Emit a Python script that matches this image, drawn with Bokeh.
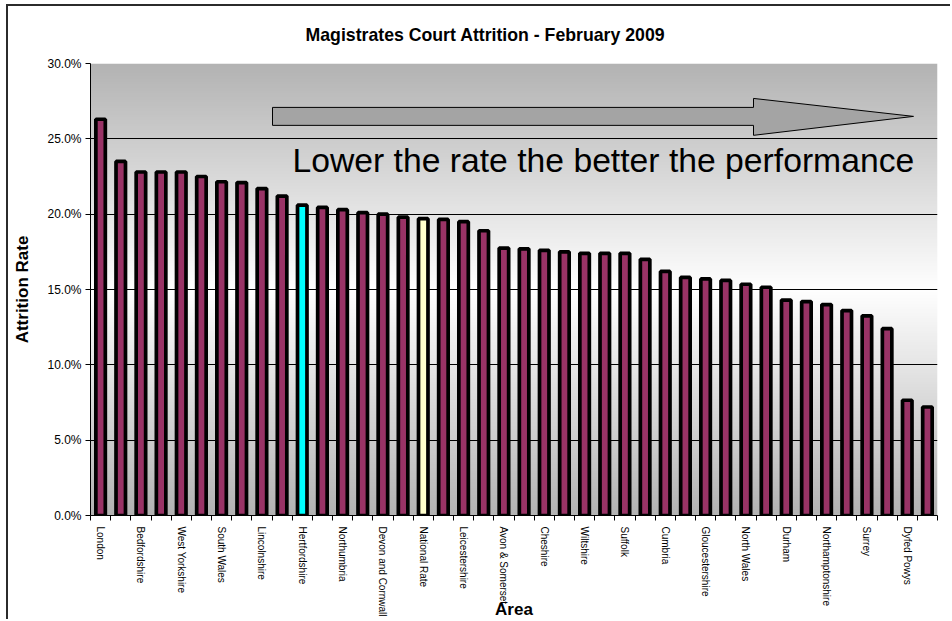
import numpy as np
from bokeh.plotting import figure
from bokeh.models import Range1d, FixedTicker, PrintfTickFormatter, Label, ColumnDataSource
from bokeh.embed import file_html
from bokeh.resources import INLINE

# ---------------- data ----------------
title_text = "Magistrates Court Attrition - February 2009"
y_title = "Attrition Rate"
x_title = "Area"
note_text = "Lower the rate the better the performance"

areas = ["London", "", "Bedfordshire", "", "West Yorkshire", "", "South Wales", "",
         "Lincolnshire", "", "Hertfordshire", "", "Northumbria", "", "Devon and Cornwall", "",
         "National Rate", "", "Leicestershire", "", "Avon & Somerset", "", "Cheshire", "",
         "Wiltshire", "", "Suffolk", "", "Cumbria", "", "Gloucestershire", "", "North Wales", "",
         "Durham", "", "Northamptonshire", "", "Surrey", "", "Dyfed Powys", ""]
rates = [26.3, 23.5, 22.8, 22.8, 22.8, 22.5, 22.15, 22.1, 21.7, 21.2,
         20.6, 20.45, 20.3, 20.1, 20.0, 19.8, 19.7, 19.65, 19.5, 18.9,
         17.75, 17.7, 17.6, 17.5, 17.4, 17.4, 17.4, 17.0, 16.2, 15.8,
         15.7, 15.6, 15.35, 15.15, 14.3, 14.2, 14.0, 13.6, 13.25, 12.4,
         7.65, 7.2]
y_ticks = [0, 5, 10, 15, 20, 25, 30]
highlight = {"Hertfordshire": "#00FFFF", "National Rate": "#FFFFCC"}
base_color = "#993366"

# ---------------- geometry ----------------
FONT = "Liberation Sans"
n = len(rates)
xs = list(range(n))
colors = [highlight.get(a, base_color) for a in areas]

OX, OY = 8, 6            # canvas origin on the page (margin + border)
W, H = 944, 615
FL, FR, FT, FB = 90, 937, 63, 516  # frame in page pixels
YMAX = y_ticks[-1]

def dx(px):
    return -0.5 + (px - FL) / (FR - FL) * n

def dy(py):
    return (FB - py) / (FB - FT) * YMAX

p = figure(width=W, height=H, output_backend="svg", toolbar_location=None,
           x_range=Range1d(-0.5, n - 0.5), y_range=Range1d(0, YMAX),
           min_border_left=FL - OX, min_border_right=OX + W - FR,
           min_border_top=FT - OY, min_border_bottom=OY + H - FB)
p.margin = (4, 0, 0, 6)
p.styles = {"border-left": "2px solid #2b2b2b", "border-top": "2px solid #2b2b2b"}
p.outline_line_color = None
p.background_fill_color = "white"
p.border_fill_color = "white"

# title
p.title.text = title_text
p.title.align = "left"
p.title.offset = 305 - FL
p.title.text_font = FONT
p.title.text_font_size = "17.7px"
p.title.text_font_style = "bold"
p.title.text_color = "black"
p.title.vertical_align = "top"
p.title.standoff = 34

# gradient background (grey at edges, white in the middle)
N = 400
t = (np.arange(N) + 0.5) / N
v = (179 + (255 - 179) * (1 - np.abs(2 * t - 1))).astype(np.uint8)
img = np.empty((N, 1), dtype=np.uint32)
view = img.view(dtype=np.uint8).reshape((N, 1, 4))
view[:, 0, 0] = v
view[:, 0, 1] = v
view[:, 0, 2] = v
view[:, 0, 3] = 255
bg = p.image_rgba(image=[img], x=-0.5, y=0, dw=n, dh=YMAX)
bg.level = "image"

# grid
p.xgrid.grid_line_color = None
p.ygrid.ticker = FixedTicker(ticks=y_ticks)
p.ygrid.grid_line_color = "black"
p.ygrid.grid_line_width = 1

# bars
src = ColumnDataSource(dict(x=xs, top=rates, color=colors))
p.vbar(x="x", top="top", width=0.47, bottom=0, source=src,
       fill_color="color", line_color="black", line_width=3.7)

# axes
p.yaxis.ticker = FixedTicker(ticks=y_ticks)
p.yaxis.formatter = PrintfTickFormatter(format="%.1f%%")
p.yaxis.major_tick_out = 5
p.yaxis.major_tick_in = 0
p.yaxis.minor_tick_line_color = None
p.yaxis.axis_line_color = "black"
p.yaxis.major_tick_line_color = "black"
p.yaxis.major_label_text_font = FONT
p.yaxis.major_label_text_font_size = "12px"
p.yaxis.major_label_text_color = "black"
p.yaxis.major_label_standoff = 4
p.yaxis.axis_label = y_title
p.yaxis.axis_label_text_font = FONT
p.yaxis.axis_label_text_font_size = "17px"
p.yaxis.axis_label_text_font_style = "bold"
p.yaxis.axis_label_text_color = "black"
p.yaxis.axis_label_standoff = 12

label_idx = [i for i, a in enumerate(areas) if a]
p.xaxis.ticker = FixedTicker(ticks=label_idx, minor_ticks=[i - 0.5 for i in range(n + 1)])
p.xaxis.major_label_overrides = {i: areas[i] for i in label_idx}
p.xaxis.major_label_orientation = "vertical"
p.xaxis.major_tick_line_color = None
p.xaxis.major_tick_out = 0
p.xaxis.major_tick_in = 0
p.xaxis.minor_tick_line_color = "black"
p.xaxis.minor_tick_out = 5
p.xaxis.minor_tick_in = 0
p.xaxis.axis_line_color = "black"
p.xaxis.major_label_text_font = FONT
p.xaxis.major_label_text_font_size = "10px"
p.xaxis.major_label_text_color = "black"
p.xaxis.major_label_standoff = 6
p.xaxis.axis_label = x_title
p.xaxis.axis_label_text_font = FONT
p.xaxis.axis_label_text_font_size = "17px"
p.xaxis.axis_label_text_font_style = "bold"
p.xaxis.axis_label_text_color = "black"
p.xaxis.axis_label_standoff = -20

# arrow
ax = [272, 753, 753, 913, 753, 753, 272]
ay = [107, 107, 98, 116, 135, 125, 125]
p.patch([dx(a) for a in ax], [dy(b) for b in ay], fill_color="#a4a4a4",
        line_color="black", line_width=1)

# note text
p.add_layout(Label(x=dx(292), y=dy(160), text=note_text, text_font=FONT,
                   text_font_size="33.7px", text_color="black",
                   text_align="left", text_baseline="alphabetic"))

open("out.html", "w").write(file_html(p, INLINE))
